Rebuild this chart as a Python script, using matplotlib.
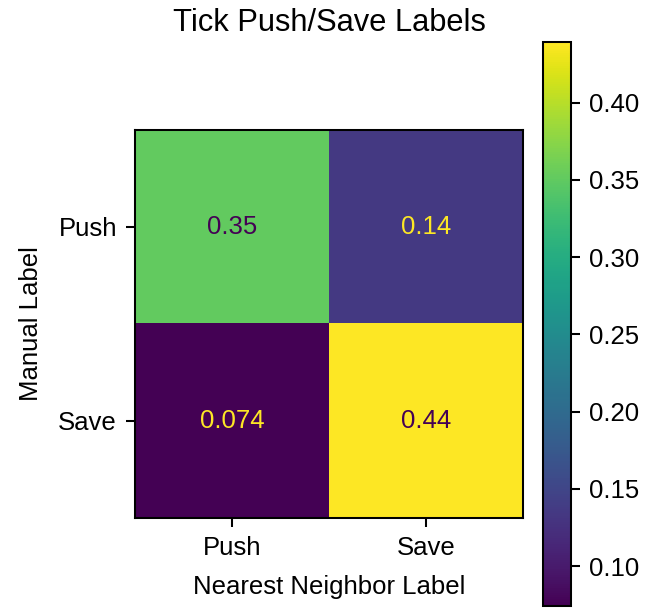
import matplotlib.pyplot as plt
import numpy as np

plt.rcParams['font.family'] = ['Liberation Sans', 'DejaVu Sans']

# normalized confusion matrix (rows = manual label, cols = nearest neighbor label)
labels = ['Push', 'Save']
cm = np.array([[0.3514, 0.1351],
               [0.0743, 0.4392]])

dpi = 185
fig = plt.figure(figsize=(660 / dpi, 612 / dpi), dpi=dpi)
ax = fig.add_axes([0.2045, 0.1536, 0.5879, 0.634])
cax = fig.add_axes([0.8227, 0.0098, 0.0424, 0.9216])

cmap = plt.get_cmap('viridis')
im = ax.imshow(cm, cmap=cmap, interpolation='nearest')
cb = fig.colorbar(im, cax=cax)

# dark text on bright cells, bright text on dark cells
thresh = (cm.max() + cm.min()) / 2.0
for i in range(cm.shape[0]):
    for j in range(cm.shape[1]):
        color = cmap(0.0) if cm[i, j] > thresh else cmap(1.0)
        ax.text(j, i, format(cm[i, j], '.2g'), ha='center', va='center',
                color=color)

ax.set_xticks(np.arange(len(labels)))
ax.set_yticks(np.arange(len(labels)))
ax.set_xticklabels(labels)
ax.set_yticklabels(labels)
ax.set_xlabel('Nearest Neighbor Label', labelpad=6)
ax.set_ylabel('Manual Label', labelpad=6)
ax.set_ylim(len(labels) - 0.5, -0.5)

fig.text(0.4985, 0.963, 'Tick Push/Save Labels', ha='center', va='center', fontsize=12)

fig.savefig('out.png', dpi=dpi)
